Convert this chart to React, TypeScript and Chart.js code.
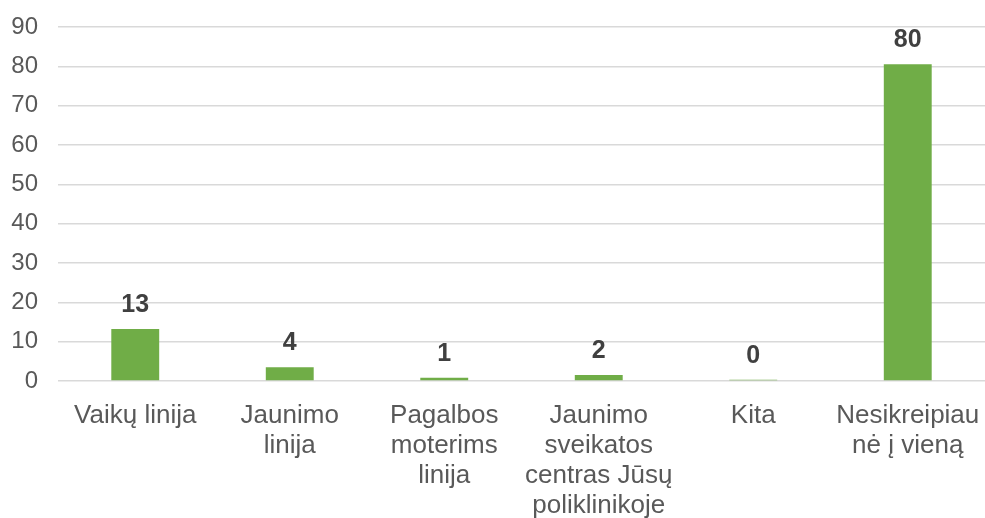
import React, { useEffect, useRef } from "react";
import { Chart, registerables } from "chart.js";

Chart.register(...registerables);

const categories: string[][] = [
  ["Vaikų linija"],
  ["Jaunimo", "linija"],
  ["Pagalbos", "moterims", "linija"],
  ["Jaunimo", "sveikatos", "centras Jūsų", "poliklinikoje"],
  ["Kita"],
  ["Nesikreipiau", "nė į vieną"],
];
const values: number[] = [13.2, 3.5, 0.8, 1.5, 0.3, 80.5];
const valueLabels: string[] = ["13", "4", "1", "2", "0", "80"];
const yMin = 0;
const yMax = 90;
const yStep = 10;

const FONT = "'Liberation Sans', Arial, sans-serif";

const dataLabelPlugin = {
  id: "dataLabels",
  afterDatasetsDraw(chart: any) {
    const ctx = chart.ctx;
    const meta = chart.getDatasetMeta(0);
    ctx.save();
    ctx.font = `bold 25px ${FONT}`;
    ctx.fillStyle = "#404040";
    ctx.textAlign = "center";
    ctx.textBaseline = "alphabetic";
    meta.data.forEach((bar: any, i: number) => {
      ctx.fillText(valueLabels[i], bar.x, bar.y - 17);
    });
    ctx.restore();
  },
};

export default function App() {
  const canvasRef = useRef<HTMLCanvasElement | null>(null);

  useEffect(() => {
    if (!canvasRef.current) return;
    const chart = new Chart(canvasRef.current, {
      type: "bar",
      data: {
        labels: categories,
        datasets: [
          {
            data: values,
            backgroundColor: "#70AD47",
            borderWidth: 0,
            barPercentage: 0.31,
            categoryPercentage: 1,
          },
        ],
      },
      options: {
        animation: false,
        responsive: false,
        maintainAspectRatio: false,
        layout: { padding: { top: 27, right: 0, left: 0, bottom: 0 } },
        plugins: {
          legend: { display: false },
          tooltip: { enabled: false },
          title: { display: false },
        },
        scales: {
          x: {
            grid: { display: false },
            border: { display: false },
            ticks: {
              color: "#595959",
              font: { size: 26, family: FONT, lineHeight: 1.15 },
              padding: 12,
              maxRotation: 0,
              autoSkip: false,
            },
            afterFit: (scale: any) => {
              scale.height = 137;
              scale.paddingLeft = 0;
              scale.paddingRight = 0;
            },
          },
          y: {
            min: yMin,
            max: yMax,
            grid: { color: "#d9d9d9", lineWidth: 1.5, drawTicks: false },
            border: { display: false },
            ticks: {
              stepSize: yStep,
              color: "#595959",
              font: { size: 24, family: FONT },
              padding: 20,
            },
            afterFit: (scale: any) => {
              scale.width = 58;
              scale.paddingTop = 0;
              scale.paddingBottom = 0;
            },
          },
        },
      },
      plugins: [dataLabelPlugin],
    });
    return () => chart.destroy();
  }, []);

  return (
    <div
      style={{
        position: "fixed",
        left: 0,
        top: 0,
        width: 985,
        height: 518,
        background: "#ffffff",
      }}
    >
      <canvas ref={canvasRef} width={985} height={518} />
    </div>
  );
}
